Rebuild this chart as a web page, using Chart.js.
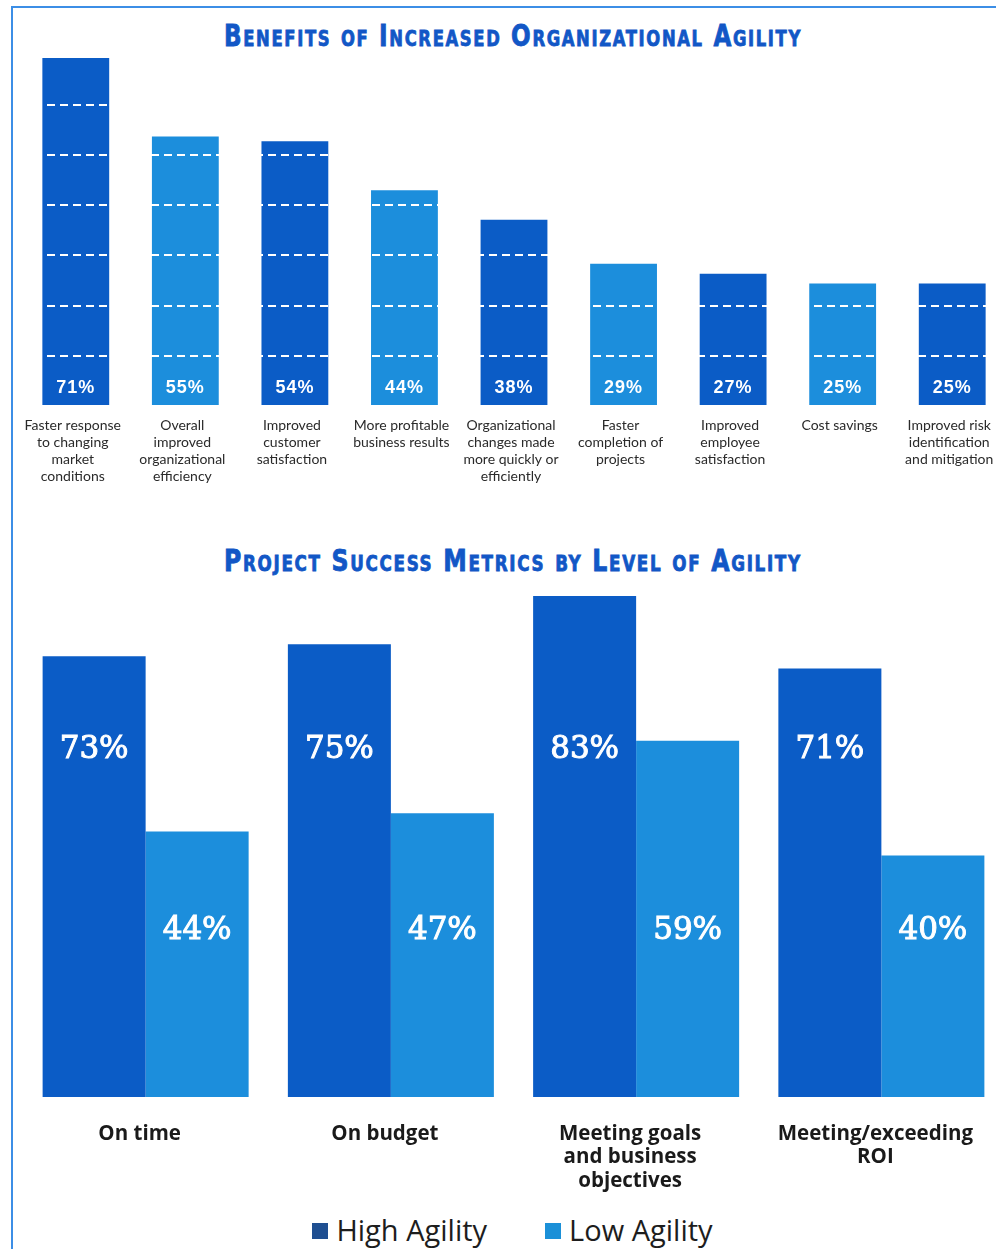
<!DOCTYPE html>
<html>
<head>
<meta charset="utf-8">
<title>Organizational Agility</title>
<script src="https://cdn.jsdelivr.net/npm/chart.js@4.4.1/dist/chart.umd.min.js"></script>
<style>
    html, body {
        margin: 0;
        padding: 0;
        background: #fff;
        width: 996px;
        height: 1249px;
        overflow: hidden;
        position: relative;
    }
    .frame {
        position: absolute;
        left: 11px;
        top: 6px;
        width: 1000px;
        height: 1300px;
        border-left: 2px solid #3c8ee6;
        border-top: 2px solid #3c8ee6;
    }
    .section-title {
        position: absolute;
        left: 224px;
        white-space: nowrap;
        font-family: "DejaVu Sans Condensed", "DejaVu Sans", sans-serif;
        font-weight: bold;
        font-variant: small-caps;
        font-size: 31px;
        line-height: 1;
        letter-spacing: 2px;
        color: #1257c6;
        -webkit-text-stroke: 0.8px #1257c6;
        transform-origin: 0 0;
    }
    #benefits-chart { position: absolute; left: 0; top: 50px; }
    #metrics-chart { position: absolute; left: 0; top: 580px; }
    #metrics-legend {
        position: absolute;
        left: 0;
        top: 1210px;
        width: 1025px;
        display: flex;
        justify-content: center;
        gap: 58px;
        font-family: "Open Sans", sans-serif;
        font-size: 29px;
        line-height: 40px;
        color: #1d1d1d;
    }
    .legend-item { display: flex; align-items: center; }
    .legend-swatch { width: 16px; height: 16px; margin-right: 8px; margin-top: 2px; }
</style>
</head>
<body>
<div class="frame"></div>

<div class="section-title" id="title-benefits" style="top: 20px;">Benefits of Increased Organizational Agility</div>
<canvas id="benefits-chart" width="1012" height="450"></canvas>

<div class="section-title" id="title-metrics" style="top: 545px;">Project Success Metrics by Level of Agility</div>
<canvas id="metrics-chart" width="1012" height="625"></canvas>
<div id="metrics-legend"></div>

<script>
// Benefícios (% de respondentes)
const benefitLabels = [
    ['Faster response', 'to changing', 'market', 'conditions'],
    ['Overall', 'improved', 'organizational', 'efficiency'],
    ['Improved', 'customer', 'satisfaction'],
    ['More profitable', 'business results'],
    ['Organizational', 'changes made', 'more quickly or', 'efficiently'],
    ['Faster', 'completion of', 'projects'],
    ['Improved', 'employee', 'satisfaction'],
    ['Cost savings'],
    ['Improved risk', 'identification', 'and mitigation']
];
const benefitValues = [71, 55, 54, 44, 38, 29, 27, 25, 25];

// Métricas de sucesso por nível de agilidade
const metricLabels = [
    ['On time'],
    ['On budget'],
    ['Meeting goals', 'and business', 'objectives'],
    ['Meeting/exceeding', 'ROI']
];
const seriesNames = ['High Agility', 'Low Agility'];
const highAgility = [73, 75, 83, 71];
const lowAgility = [44, 47, 59, 40];

const DARK_BLUE = '#0b5cc6';
const LIGHT_BLUE = '#1c8edc';
const LEGEND_COLORS = ['#1f4f91', '#1b90d8'];

/**
 * Ajusta os títulos para a largura da faixa
 */
function fitTitle(id, targetWidth) {
    const el = document.getElementById(id);
    const w = el.offsetWidth;
    el.style.transform = `scaleX(${targetWidth / w})`;
}

/**
 * Rótulos de valor dentro das barras
 */
const barValueLabels = {
    id: 'barValueLabels',
    afterDatasetsDraw(chart, args, opts) {
        const ctx = chart.ctx;
        const yScale = chart.scales.y;
        ctx.save();
        ctx.font = opts.font;
        ctx.fillStyle = opts.color;
        ctx.strokeStyle = opts.color;
        ctx.lineWidth = opts.stroke || 0;
        ctx.textAlign = 'center';
        ctx.textBaseline = 'middle';
        if (opts.letterSpacing) ctx.letterSpacing = opts.letterSpacing;
        chart.data.datasets.forEach((ds, i) => {
            const meta = chart.getDatasetMeta(i);
            const y = opts.levels
                ? yScale.getPixelForValue(opts.levels[i])
                : yScale.getPixelForValue(0) - opts.offset;
            meta.data.forEach((bar, j) => {
                const text = ds.data[j] + '%';
                ctx.fillText(text, bar.x, y);
                if (opts.stroke) ctx.strokeText(text, bar.x, y);
            });
        });
        ctx.restore();
    }
};

// Gráfico 1: benefícios
new Chart(document.getElementById('benefits-chart'), {
    type: 'bar',
    data: {
        labels: benefitLabels,
        datasets: [{
            data: benefitValues,
            backgroundColor: benefitValues.map((v, i) => i % 2 === 0 ? DARK_BLUE : LIGHT_BLUE),
            borderWidth: 0,
            barPercentage: 0.61,
            categoryPercentage: 1
        }]
    },
    options: {
        responsive: false,
        animation: false,
        devicePixelRatio: 1,
        layout: { padding: { left: 21, right: 5, top: 8, bottom: 0 } },
        plugins: {
            legend: { display: false },
            tooltip: { enabled: false },
            barValueLabels: {
                font: 'bold 18px "Liberation Sans", Arial, sans-serif',
                color: '#ffffff',
                letterSpacing: '1px',
                offset: 18
            }
        },
        scales: {
            x: {
                grid: { display: false, drawTicks: false },
                border: { display: false },
                ticks: {
                    padding: 11,
                    labelOffset: -3,
                    color: '#2a2a2a',
                    font: { family: 'Lato', size: 14, lineHeight: 1.21 },
                    maxRotation: 0,
                    autoSkip: false
                },
                afterFit(scale) { scale.height = 94; }
            },
            y: {
                min: 0,
                max: 71,
                ticks: { display: false, stepSize: 10.25 },
                afterBuildTicks(scale) {
                    scale.ticks = scale.ticks.filter(t => t.value < scale.max);
                },
                afterFit(scale) { scale.width = 0; },
                grid: {
                    color: '#ffffff',
                    lineWidth: 2,
                    drawTicks: false,
                    z: 1
                },
                border: { display: false, dash: [8, 5] }
            }
        }
    },
    plugins: [barValueLabels]
});

// Gráfico 2: métricas de sucesso
const metricsChart = new Chart(document.getElementById('metrics-chart'), {
    type: 'bar',
    data: {
        labels: metricLabels,
        datasets: [
            {
                label: seriesNames[0],
                data: highAgility,
                backgroundColor: DARK_BLUE,
                borderWidth: 0,
                barPercentage: 1,
                categoryPercentage: 0.84
            },
            {
                label: seriesNames[1],
                data: lowAgility,
                backgroundColor: LIGHT_BLUE,
                borderWidth: 0,
                barPercentage: 1,
                categoryPercentage: 0.84
            }
        ]
    },
    options: {
        responsive: false,
        animation: false,
        devicePixelRatio: 1,
        layout: { padding: { left: 23, right: 8, top: 16, bottom: 0 } },
        plugins: {
            legend: { display: false },
            tooltip: { enabled: false },
            barValueLabels: {
                font: '31px "DejaVu Serif", serif',
                color: '#ffffff',
                stroke: 1,
                levels: [57.5, 27.5]
            }
        },
        scales: {
            x: {
                grid: { display: false, drawTicks: false },
                border: { display: false },
                ticks: {
                    padding: 25,
                    labelOffset: -6,
                    color: '#1a1a1a',
                    font: { family: 'Open Sans', size: 20.5, weight: '700', lineHeight: 1.15 },
                    maxRotation: 0,
                    autoSkip: false
                },
                afterFit(scale) { scale.height = 108; }
            },
            y: {
                display: false,
                min: 0,
                max: 83
            }
        }
    },
    plugins: [barValueLabels]
});

// Legenda em HTML a partir dos datasets
const legendBox = document.getElementById('metrics-legend');
metricsChart.data.datasets.forEach((ds, i) => {
    const item = document.createElement('div');
    item.className = 'legend-item';
    item.innerHTML = `<span class="legend-swatch" style="background:${LEGEND_COLORS[i]}"></span><span>${ds.label}</span>`;
    legendBox.appendChild(item);
});

fitTitle('title-benefits', 578);
fitTitle('title-metrics', 578);
</script>
</body>
</html>
